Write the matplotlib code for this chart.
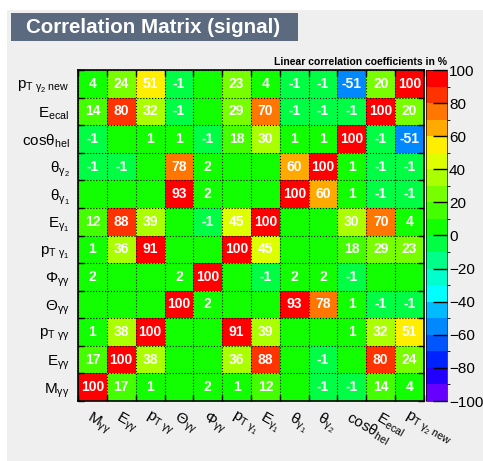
import numpy as np
import matplotlib
matplotlib.use("Agg")
import matplotlib.pyplot as plt
from matplotlib.colors import ListedColormap, BoundaryNorm
from matplotlib.patches import Rectangle

plt.rcParams["font.family"] = ["Liberation Sans", "DejaVu Sans"]
plt.rcParams["mathtext.fontset"] = "custom"
plt.rcParams["mathtext.rm"] = "Liberation Sans"
plt.rcParams["mathtext.it"] = "Liberation Sans:italic"
plt.rcParams["mathtext.bf"] = "Liberation Sans:bold"
plt.rcParams["axes.unicode_minus"] = True

# variable labels, bottom-to-top on y, left-to-right on x
labels = [r"$\mathrm{M_{\gamma\gamma}}$", r"$\mathrm{E_{\gamma\gamma}}$",
          r"$\mathrm{p_{T\ \gamma\gamma}}$", r"$\mathrm{\Theta_{\gamma\gamma}}$",
          r"$\mathrm{\Phi_{\gamma\gamma}}$", r"$\mathrm{p_{T\ \gamma_{1}}}$",
          r"$\mathrm{E_{\gamma_{1}}}$", r"$\mathrm{\theta_{\gamma_{1}}}$",
          r"$\mathrm{\theta_{\gamma_{2}}}$", r"$\mathrm{cos\theta_{hel}}$",
          r"$\mathrm{E_{ecal}}$", r"$\mathrm{p_{T\ \gamma_{2}\ new}}$"]

# correlation rows (in %), one per variable
row_M = [100, 17, 1, 0, 2, 1, 12, 0, -1, -1, 14, 4]
row_E = [17, 100, 38, 0, 0, 36, 88, 0, -1, 0, 80, 24]
row_pT = [1, 38, 100, 0, 0, 91, 39, 0, 0, 1, 32, 51]
row_Theta = [0, 0, 0, 100, 2, 0, 0, 93, 78, 1, -1, -1]
row_Phi = [2, 0, 0, 2, 100, 0, -1, 2, 2, -1, 0, 0]
row_pT1 = [1, 36, 91, 0, 0, 100, 45, 0, 0, 18, 29, 23]
row_E1 = [12, 88, 39, 0, -1, 45, 100, 0, 0, 30, 70, 4]
row_th1 = [0, 0, 0, 93, 2, 0, 0, 100, 60, 1, -1, -1]
row_th2 = [-1, -1, 0, 78, 2, 0, 0, 60, 100, 1, -1, -1]
row_cos = [-1, 0, 1, 1, -1, 18, 30, 1, 1, 100, -1, -51]
row_Eecal = [14, 80, 32, -1, 0, 29, 70, -1, -1, -1, 100, 20]
row_pT2new = [4, 24, 51, -1, 0, 23, 4, -1, -1, -51, 20, 100]

corr = np.array([row_M, row_E, row_pT, row_Theta, row_Phi, row_pT1, row_E1,
                 row_th1, row_th2, row_cos, row_Eecal, row_pT2new])

# ROOT-like 20 level palette
pal = ["#6600ff", "#2200ff", "#0022ff", "#0055ff", "#0088ff", "#00bbff",
       "#00ffff", "#00ffcc", "#00ff88", "#00ff44", "#11ff00", "#44ff00",
       "#77ff00", "#aaff00", "#ddff00", "#ffee00", "#ffaa00", "#ff7700",
       "#ff3300", "#ff0000"]
cmap = ListedColormap(pal)
levels = np.arange(-100, 101, 10)
norm = BoundaryNorm(levels, cmap.N, clip=True)

W, H = 483, 461
fig = plt.figure(figsize=(W / 100, H / 100), dpi=100, facecolor="white")
fig.patches.append(Rectangle((7 / W, 0), 1, 1 - 10 / H, transform=fig.transFigure,
                             facecolor="#efefef", edgecolor="none", zorder=-10))
fig.patches.append(Rectangle((11 / W, 1 - 41 / H), 287 / W, 28 / H, transform=fig.transFigure,
                             facecolor="#5b6a7e", edgecolor="none", zorder=-5))
fig.text(26 / W, 1 - 27.5 / H, "Correlation Matrix (signal)", color="white",
         fontsize=14.8, fontweight="bold", va="center", ha="left")

ax = fig.add_axes([78 / W, 1 - 401 / H, 346 / W, 331 / H])
n = len(labels)
edges = np.arange(n + 1)
ax.pcolormesh(edges, edges, corr, cmap=cmap, norm=norm)
for i in range(n):
    for j in range(n):
        v = corr[i, j]
        if v != 0:
            ax.text(j + 0.5, i + 0.5, str(v), ha="center", va="center",
                    color="white", fontsize=10, fontweight="bold")

ax.set_xlim(0, n)
ax.set_ylim(0, n)
ax.set_xticks(edges)
ax.set_yticks(edges)
ax.set_xticklabels([])
ax.set_yticklabels([])
ax.tick_params(which="major", direction="in", length=4, width=1, top=True, right=True)
ax.set_xticks(np.arange(n) + 0.5, minor=True)
ax.set_yticks(np.arange(n) + 0.5, minor=True)
ax.set_xticklabels(labels, minor=True, rotation=-30, ha="left", va="top",
                   rotation_mode="anchor", fontsize=11)
ax.set_yticklabels(labels, minor=True, fontsize=11)
ax.tick_params(which="minor", length=0, pad=6)
ax.grid(True, which="major", color="black", linestyle=":", linewidth=0.8)
for s in ax.spines.values():
    s.set_linewidth(1.2)

cax = fig.add_axes([426 / W, 1 - 401 / H, 21 / W, 331 / H])
cb = fig.colorbar(plt.cm.ScalarMappable(norm=norm, cmap=cmap), cax=cax,
                  ticks=np.arange(-100, 101, 20))
cb.outline.set_linewidth(0.5)
cax.tick_params(direction="in", length=10, width=1, labelsize=11, pad=1.5)
cax.set_yticklabels([str(t).replace("-", "\u2212") for t in range(-100, 101, 20)])

fig.text(447 / W, 1 - 62 / H, "Linear correlation coefficients in %", fontsize=7.5,
         fontweight="bold", ha="right", va="center")

fig.savefig("out.png", dpi=100)
